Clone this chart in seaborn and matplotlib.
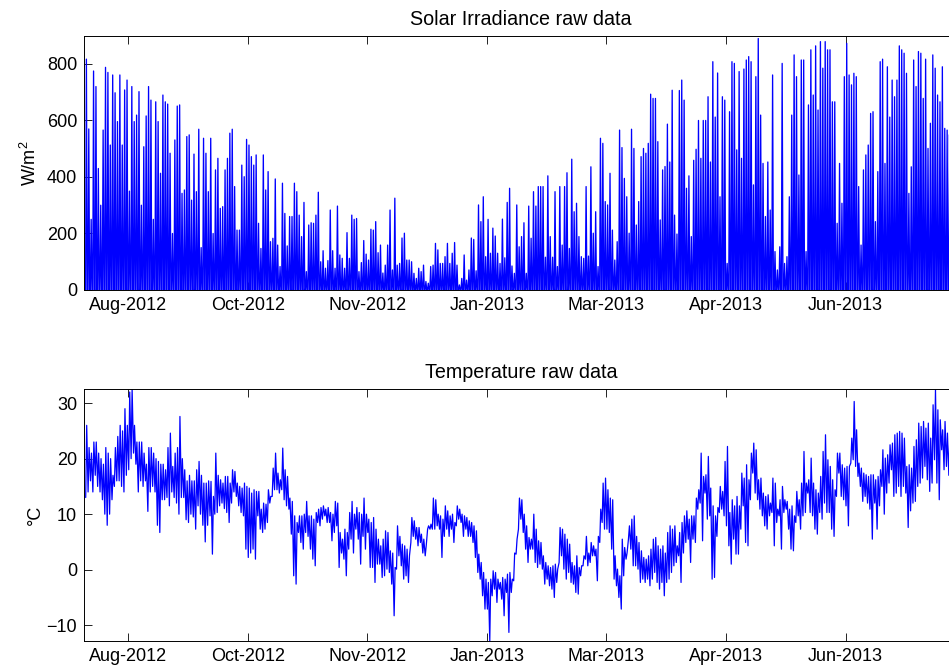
import numpy as np
import pandas as pd
import matplotlib
matplotlib.use("Agg")
import matplotlib.pyplot as plt
import matplotlib.dates as mdates
import seaborn as sns

# ---------------- data ----------------
start_date = "2012-08-01"

# daily peak solar irradiance, W/m^2 (one value per day from 1 Aug 2012)
irr_peak = [
    817, 570, 250, 775, 720, 430, 300, 566, 788, 770, 513, 761, 698, 596, 761, 513, 708, 743, 350, 720,
    596, 619, 702, 300, 507, 616, 720, 672, 250, 666, 596, 413, 690, 666, 658, 484, 200, 531, 651, 655,
    342, 354, 543, 549, 318, 481, 348, 569, 150, 537, 484, 348, 537, 200, 425, 466, 289, 295, 425,
    466, 555, 569, 366, 212, 212, 442, 401, 533, 513, 472, 442, 478, 236, 147, 478, 354, 419, 171, 183,
    393, 159, 83, 378, 271, 156, 260, 260, 378, 348, 265, 189, 310, 65, 230, 238, 236, 265, 346, 100,
    139, 77, 104, 283, 139, 77, 297, 124, 112, 77, 203, 112, 265, 250, 253, 65, 97, 175, 127, 106,
    215, 212,
    242, 132, 159, 60, 88, 159, 283, 71, 325, 88, 94, 184, 201, 106, 106, 100, 59, 41, 77, 65,
    88, 30, 24, 83, 88, 165, 142, 94, 94, 118, 165, 94, 130, 168, 88, 18, 41, 124, 35, 71,
    184, 179, 68, 301, 242, 330, 118, 250, 130, 219, 191, 130, 94, 251, 114, 310, 360, 85, 59, 301,
    153,
    189, 238, 59, 297, 183, 348, 297, 366, 366, 366, 116, 404, 189, 116, 348, 83, 366, 159, 366, 415,
    147, 463, 277, 307, 189, 118, 112, 366, 120, 436, 201, 277, 83, 537, 519, 313, 301, 413, 212, 106,
    171, 566, 504, 395, 330, 201, 569, 501, 230, 313, 472, 501, 484, 519, 693, 678, 678, 525, 248, 425,
    437, 587, 453, 707, 265, 198, 706, 743, 672, 360, 404, 189, 459, 498, 600, 466, 600, 600, 684, 453,
    808, 612, 768, 330, 684, 672, 94, 631, 808, 802, 496, 773, 466, 782, 814, 826, 808, 372, 755, 890,
    619, 448, 260, 453, 283, 761, 136, 71, 153, 802, 94, 118, 330, 619, 832, 755, 407, 814, 814, 136,
    655,
    850, 690, 864, 637, 879, 785, 879, 850, 850, 666, 666, 236, 448, 307, 755, 873, 761, 726, 767, 755,
    366, 159, 425, 478, 513, 625, 631, 242, 419, 808, 817, 448, 790, 612, 743, 684, 743, 864, 850, 838,
    767, 342, 436, 814, 720, 844, 838, 678, 817, 501, 590, 832, 785, 690, 666, 790, 572, 566, 550, 600,
    500, 650,
]

# daily maximum and minimum temperature, deg C
temp_high = [
    26, 22, 21, 23, 23, 21, 20, 19, 22, 21, 20, 17, 22, 24, 26, 25, 29, 26, 32, 32.6,
    26, 23, 23, 23, 21, 19, 22, 22, 21, 20, 19.5, 19, 19, 18, 22, 24.6, 18.6, 21, 22, 27.6,
    20, 18, 16, 17, 16, 16, 18, 19.5, 17, 15.6, 15.6, 16, 15.9, 13.2, 21, 17, 16.2, 15.6, 16.8,
    16.8, 15.6, 18, 17.7, 15.6, 15, 14.7, 15.6, 15, 14.7, 13.8, 14.4, 14.1, 14.1, 10.9, 12, 11.8, 14.4, 13.2, 18.3,
    21, 17.4, 16.2, 21.9, 18, 16.8, 12.9, 12.3, 9.7, 8.5, 9.7, 9.7, 10, 12.3, 9.7, 9.7, 9.1, 10.3, 10.9, 11.2,
    11.5, 10.9, 11.2, 10.3, 10, 12.3, 12, 6.7, 5.5, 7.3, 6.7, 10.3, 12.3, 10, 11.2, 10.3, 10, 12.9, 10, 9.1,
    8.5,
    9.4, 7.3, 5.5, 4.3, 5.5, 7, 6.7, 3.4, 3, 0.4, 7.9, 6, 4.6, 4.3, 3.7, 2.5, 9.4, 8.8, 7.6, 7.6,
    6.4, 5.5, 4.3, 7.9, 8.2, 12.9, 12.6, 10, 9.7, 9.1, 11.5, 10.6, 9.7, 10, 8.5, 11.5, 10.9, 10, 9.7, 9.4,
    8.8, 8.5, 7.9, 7, 2.8, 1.3, -0.5, -1.7, -2.3, -1.7, -0.2, -0.5, -1.7, -2.3, -1.4, -1.7, -0.8, -0.5, -1.7, 3,
    5.5, 12.9, 12.6, 10, 7.9, 5.8, 5.5, 10, 7.3, 5.2, 4.9, 2.5, 1.3, 0.7, 0.4, 0.7, 1, 0.1, 7.6, 7.3,
    6.4, 5.5, 4.6, 1.3, 0.7, 2.5, 0.4, 0.7, 2.5, 6, 3, 4.9, 4.3, 3.7, 6, 10.9, 15.6, 16.5, 14.4, 12.9,
    12.6, 2.5, 0.1, -1.1, 5.5, 4, 3, 7.9, 9.1, 9.7, 6, 4.9, 3.4, 2.2, 1.9, 2.5, 3.7, 5.5, 5.8, 4.3,
    3.7,
    4.3, 3, 6.7, 7.9, 7.3, 7.9, 4.3, 6.7, 8.5, 9.7, 10.6, 9.1, 9.7, 9.7, 12.9, 14.4, 21, 16.8, 17.1, 20.4,
    14.7, 11.5, 9.7, 11.2, 15, 14.1, 19.5, 22.2, 10.3, 12.6, 11.5, 13.2, 11.5, 17.4, 16.5, 18.9, 16.2, 21, 22.8, 21.6,
    16.2, 16.5, 13.8, 13.2, 13.5, 12, 16.5, 15.6, 10.9, 12.6, 15, 12.6, 12.3, 10.9, 11.5, 9.7, 14.1, 12.6,
    15.6, 21.3, 15.6, 16.2, 20.1, 15.6, 14.4, 13.8, 16.8, 21.3, 24.3, 19.8, 18.6, 16.2, 14.4, 21, 21, 18.9, 18.3, 18.6,
    18.6, 23.7, 30.3, 25.2, 19.2, 18.3, 17.4, 17.1, 16.8, 17.1, 17.1, 16.2, 16.8, 18, 21.6, 20.1, 20.7, 22.5, 22.8, 24.3,
    24.6, 24.9, 24.6, 23.7, 18.6, 18.9, 18.3, 22.2, 23.4, 26.4, 25.8, 26.7, 25.5, 26.4, 23.7, 29.7, 32.4, 28.8, 27, 25.2,
    26.7, 24.6, 24, 23, 25, 22,
]

temp_low = [
    13, 14, 16, 14, 17, 15, 14, 12.6, 10, 8, 10, 12.6, 15, 16, 16, 15, 14, 17, 18, 20,
    21, 19, 14, 16, 15, 16, 10.5, 14, 15, 14, 8, 6.7, 12.6, 12.6, 13, 11.5, 14, 13, 12, 10,
    13, 13, 9, 8.5, 10, 9.5, 7.3, 11.5, 10, 8, 5, 8, 9.7, 2.8, 10, 10.3, 11.5, 12, 11,
    10.3, 8.5, 12, 14, 13.2, 11.5, 10.3, 9.7, 3.7, 2.2, 3, 3.7, 1.9, 9.7, 7.3, 6.7, 7.3, 8.5, 12, 13.2,
    14.4, 14.4, 13.8, 14.4, 12.6, 11.5, 10.9, 6.4, -1.1, -2.6, 6.7, 4.9, 3.7, 6.7, 6, 3.7, 1.9, 0.7, 8.5, 7.9,
    9.1, 9.7, 8.5, 8.5, 5.2, 6.7, 7.9, 0.4, 3, 1.9, -1.1, 3.7, 5.5, 3, 7.3, 5.5, 1, 6, 3.7, 6.7,
    0.4,
    0.4, -2.3, 1, 1, -1.4, -1.1, 0.1, -0.5, -2.6, -8.3, 0.1, 2.5, 0.7, -1.7, -1.1, -2.3, 4.9, 6, 5.5, 4.3,
    4.9, 3, 2.5, 7.3, 7.3, 7.3, 7.3, 7.9, 7.3, 2.2, 6, 7.3, 6, 7.3, 4.9, 7.9, 9.1, 8.5, 6, 7.3,
    6, 6, 4.9, 2.2, -0.5, -1.7, -4.7, -7.1, -7.1, -12.9, -4.7, -3.5, -5.9, -3.5, -5.3, -8.3, -4.1, -11.3, -4.1, -2,
    2.8, 7.3, 9.1, 6.7, 3.7, 1.3, 3.7, 3.7, 1.3, 0.4, 1, 0.1, -2.6, -1.7, -2.9, -3.5, -5, -2.3, 1.3, 2.5,
    0.1, -1.7, -0.5, -2.3, -2.6, -4.1, -4.4, -1.1, 0.7, 1.9, 0.7, 1.3, 2.5, 2.5, -2, 4.9, 8.5, 7.3, 7.3, 6.7,
    3.7, -1.7, -2.9, -5, -7.1, -1.1, 1.9, 5.5, 3.7, 0.7, 0.7, 0.1, -2.3, -1.7, -2.3, -1.7, -2.9, -1.7, -0.5, -2.3,
    -3.5,
    -2.3, -4.7, -2.3, -1.7, -0.5, 0.7, 1.3, 2.5, -2.3, 3, 4.9, 5.5, 1.3, 5.5, 4.9, 10.9, 12, 5.2, 13.8, 9.1,
    9.7, -1.7, -1.4, 6, 10.3, 10.9, 9.7, 7.9, 4.3, 1, 5.5, 2.8, 2.8, 7.3, 11.5, 4.9, 4.3, 12.6, 17.4, 13.8,
    12.6, 10.9, 9.7, 7.9, 7.3, 9.7, 10.3, 4.3, 8.5, 9.7, 3.7, 10.3, 10.9, 7.3, 3.7, 3.4, 8.5, 9.7,
    7.3, 9.7, 10.3, 13.8, 10.3, 9.7, 7.3, 6.4, 10.3, 9.1, 12, 10.3, 10.3, 7.3, 6, 13.2, 17.4, 13.2, 12.6, 11.5,
    7.9, 19.2, 19.8, 18.6, 16.8, 15, 12.3, 13.2, 12, 10.9, 5.5, 12, 7.3, 11.5, 15, 10, 13.8, 15.6, 18, 13.2,
    13.8, 15, 13.2, 15, 13.8, 7.6, 10.6, 12, 12.3, 15, 15.6, 16.5, 18.6, 16.2, 14.1, 15.6, 19.8, 15.6, 12.6, 21.6,
    18, 18.6, 17, 16, 18, 16,
]

tick_dates = ["2012-08-19", "2012-10-08", "2012-11-27", "2013-01-16",
              "2013-03-07", "2013-04-26", "2013-06-15"]

titles = ["Solar Irradiance raw data", "Temperature raw data"]
ylabels = ["W/m$^2$", "\u00b0C"]
irr_yticks = [0, 200, 400, 600, 800]
temp_yticks = [-10, 0, 10, 20, 30]

# ---------------- build time series ----------------
t0 = pd.Timestamp(start_date)
n_irr = len(irr_peak)
days_irr = pd.to_timedelta(np.arange(n_irr), unit="D")
irr_times = np.column_stack([
    (t0 + days_irr + pd.Timedelta(hours=4)).values,
    (t0 + days_irr + pd.Timedelta(hours=12)).values,
    (t0 + days_irr + pd.Timedelta(hours=20)).values,
]).ravel()
irr_vals = np.column_stack([np.zeros(n_irr), np.array(irr_peak, float), np.zeros(n_irr)]).ravel()
df_irr = pd.DataFrame({"time": pd.to_datetime(irr_times), "value": irr_vals})

n_t = len(temp_high)
days_t = pd.to_timedelta(np.arange(n_t), unit="D")
temp_times = np.column_stack([
    (t0 + days_t + pd.Timedelta(hours=5)).values,
    (t0 + days_t + pd.Timedelta(hours=15)).values,
]).ravel()
temp_vals = np.column_stack([np.array(temp_low, float), np.array(temp_high, float)]).ravel()
df_temp = pd.DataFrame({"time": pd.to_datetime(temp_times), "value": temp_vals})

# ---------------- plot ----------------
sns.set_style("ticks")
plt.rcParams["font.family"] = ["Liberation Sans", "DejaVu Sans"]
plt.rcParams["mathtext.fontset"] = "custom"
plt.rcParams["mathtext.rm"] = "Liberation Sans"
plt.rcParams["mathtext.it"] = "Liberation Sans"
plt.rcParams["text.color"] = "black"
plt.rcParams["axes.labelcolor"] = "black"
plt.rcParams["axes.titlecolor"] = "black"

W, H = 949, 665
fig = plt.figure(figsize=(W / 100, H / 100), dpi=100)
left_px, right_px = 84, 957.9
ax1 = fig.add_axes([left_px / W, 1 - 290 / H, (right_px - left_px) / W, (290 - 35.7) / H])
ax2 = fig.add_axes([left_px / W, 1 - 641.3 / H, (right_px - left_px) / W, (641.3 - 388.7) / H])

blue = "#0000ff"
sns.lineplot(data=df_irr, x="time", y="value", ax=ax1, color=blue, linewidth=0.95,
             estimator=None, sort=False)
sns.lineplot(data=df_temp, x="time", y="value", ax=ax2, color=blue, linewidth=0.9,
             estimator=None, sort=False)

xmin = t0 - pd.Timedelta(hours=12)
xmax = t0 + pd.Timedelta(days=365)
ticks = [mdates.date2num(pd.Timestamp(d)) for d in tick_dates]

for ax, title, ylab, lp in zip([ax1, ax2], titles, ylabels, [5, 2]):
    ax.set_xlim(xmin, xmax)
    ax.set_xticks(ticks)
    ax.xaxis.set_major_formatter(mdates.DateFormatter("%b-%Y"))
    ax.set_xlabel("")
    ax.set_ylabel(ylab, fontsize=13, labelpad=lp, color="black")
    ax.set_title(title, fontsize=14.2, pad=8, color="black")
    ax.tick_params(direction="in", length=6, width=0.6, top=True, right=True,
                   labelsize=13, colors="black", pad=5)
    for sp in ax.spines.values():
        sp.set_visible(True)
        sp.set_linewidth(0.7)
        sp.set_color("black")
    ax.grid(False)

ax1.set_ylim(0, 900)
ax1.set_yticks(irr_yticks)
ax2.set_ylim(min(temp_low), max(temp_high))
ax2.set_yticks(temp_yticks)

fig.savefig("out.png", dpi=100)
